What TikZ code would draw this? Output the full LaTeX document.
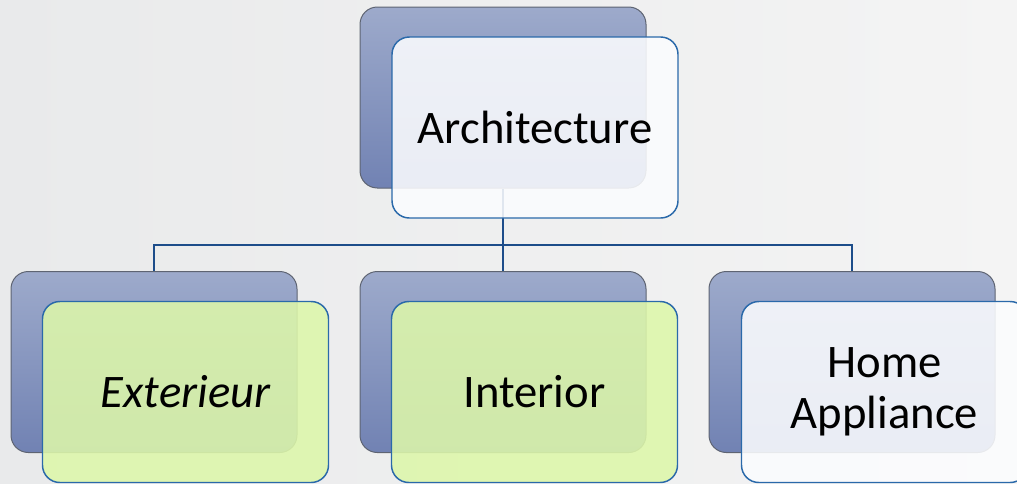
\documentclass[tikz,border=0pt]{standalone}
\usepackage{fontspec}
\setmainfont{Carlito}
\usepackage{xcolor}
\usepackage{tikz}
\usetikzlibrary{calc,positioning}
\definecolor{bgl}{HTML}{E9EAEB}
\definecolor{bgr}{HTML}{F4F4F4}
\definecolor{shtop}{HTML}{9DAACB}
\definecolor{shbot}{HTML}{7182B3}
\definecolor{shedge}{HTML}{5E6472}
\definecolor{linec}{HTML}{1D4D8A}
\definecolor{framec}{HTML}{2A69AA}
\definecolor{paleb}{HTML}{FBFCFE}
\definecolor{limec}{HTML}{DDF7AA}
\tikzset{
  backbox/.style={draw=shedge,line width=0.75pt,rounded corners=13pt,top color=shtop,bottom color=shbot,
    minimum width=214.5pt,minimum height=135.75pt,inner sep=0pt},
  frontbox/.style={draw=framec,line width=1.1pt,rounded corners=13pt,fill=paleb,fill opacity=0.88,text opacity=1,
    minimum width=214.5pt,minimum height=135.75pt,inner sep=0pt,align=center,font=\fontsize{35}{38}\selectfont},
  greenbox/.style={frontbox,fill=limec},
  conn/.style={linec,line width=1.6pt}
}
\begin{document}
\begin{tikzpicture}[x=0.75pt,y=-0.75pt]
\useasboundingbox (0,0) rectangle (1017,483);
\shade[left color=bgl,right color=bgr] (0,0) rectangle (1017,483);
\clip (0,0) rectangle (1017,483);
% shadow boxes
\node[backbox] (archB) at (503,97.5) {};
\node[backbox] (extB) at (154,362) {};
\node[backbox] (intB) at (503,362) {};
\node[backbox] (homeB) at (852,362) {};
% tree lines
\coordinate (hub) at (503,245);
\draw[conn] (archB.south) -- (hub) -| (extB.north);
\draw[conn] (hub) -| (homeB.north);
\draw[conn] (hub) -- (intB.north);
% labelled boxes
\node[frontbox] (arch) at (535,127.5) {Architecture};
\node[greenbox] (ext) at (185.5,392) {\itshape Exterieur};
\node[greenbox] (int) at (534.5,392) {Interior};
\node[frontbox] (home) at (884.5,392) {Home\\Appliance};
\end{tikzpicture}
\end{document}
